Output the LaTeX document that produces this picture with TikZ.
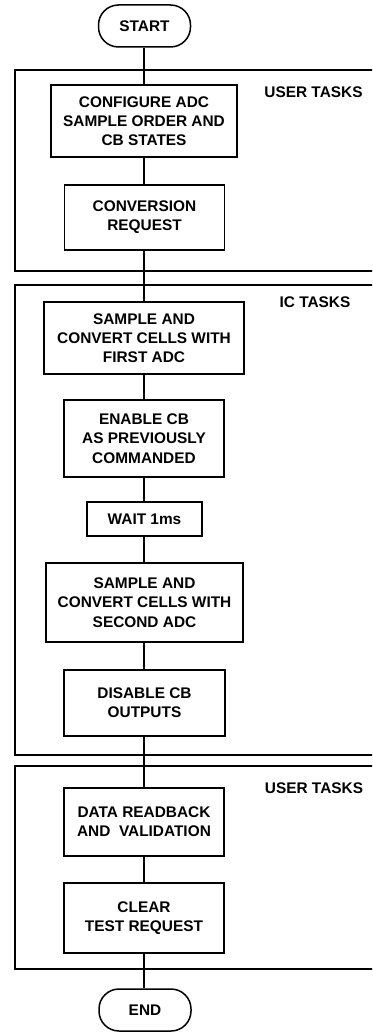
\documentclass[tikz,border=0pt]{standalone}
\usepackage{fontspec}
\setmainfont{Liberation Sans}
\begin{document}
\begin{tikzpicture}[x=1pt,y=-1pt,
  every node/.style={font=\fontsize{15.4}{19.2}\selectfont\bfseries, align=center, inner sep=0pt},
  box/.style={draw, line width=1.5pt, minimum width=#1},
  term/.style={draw, line width=1.5pt, rounded corners=20pt, minimum width=92pt, minimum height=42pt},
  panel/.style={draw, line width=1.5pt},
  link/.style={line width=1.5pt},
  tasklabel/.style={}]
\useasboundingbox (0,0) rectangle (372,1032);
\clip (0,0) rectangle (372,1032);
% panels
\draw[panel] (15,70) rectangle (400,271);
\draw[panel] (15,285) rectangle (400,755);
\draw[panel] (15,766) rectangle (400,969);
\node[tasklabel] (l1) at (313.5,92) {USER TASKS};
\node[tasklabel] (l2) at (315,302) {IC TASKS};
\node[tasklabel] (l3) at (314,788) {USER TASKS};
% nodes
\node[term] (start) at (144.5,26) {START};
\node[box=186pt, minimum height=72pt] (b1) at (144,121) {CONFIGURE ADC\\SAMPLE ORDER AND\\CB STATES};
\node[box=160pt, minimum height=65pt] (b2) at (144.5,217.5) {CONVERSION\\REQUEST};
\node[box=200pt, minimum height=72pt] (b3) at (144,338) {SAMPLE AND\\CONVERT CELLS WITH\\FIRST ADC};
\node[box=160pt, minimum height=77pt] (b4) at (144,438.5) {ENABLE CB\\AS PREVIOUSLY\\COMMANDED};
\node[box=115pt, minimum height=34pt] (b5) at (144.5,519) {WAIT 1ms};
\node[box=197pt, minimum height=79pt] (b6) at (144.5,602.5) {SAMPLE AND\\CONVERT CELLS WITH\\SECOND ADC};
\node[box=161pt, minimum height=66pt] (b7) at (144.5,703) {DISABLE CB\\OUTPUTS};
\node[box=160pt, minimum height=68pt] (b8) at (144,822) {DATA READBACK\\AND~ VALIDATION};
\node[box=160pt, minimum height=70pt] (b9) at (144,918) {CLEAR\\TEST REQUEST};
\node[term] (end) at (145,1010) {END};
% connectors
\draw[link] (start.south -| b1.north) -- (b1.north);
\draw[link] (b1.south) -- (b2.north -| b1.south);
\draw[link] (b2.south -| b1.south) -- (b3.north);
\draw[link] (b3) -- (b4);
\draw[link] (b4.south) -- (b5.north -| b4.south);
\draw[link] (b5.south -| b4.south) -- (b6.north -| b4.south);
\draw[link] (b6.south -| b4.south) -- (b7.north -| b4.south);
\draw[link] (b7.south -| b8.north) -- (b8.north);
\draw[link] (b8) -- (b9);
\draw[link] (b9.south) -- (end.north -| b9.south);
\end{tikzpicture}
\end{document}
